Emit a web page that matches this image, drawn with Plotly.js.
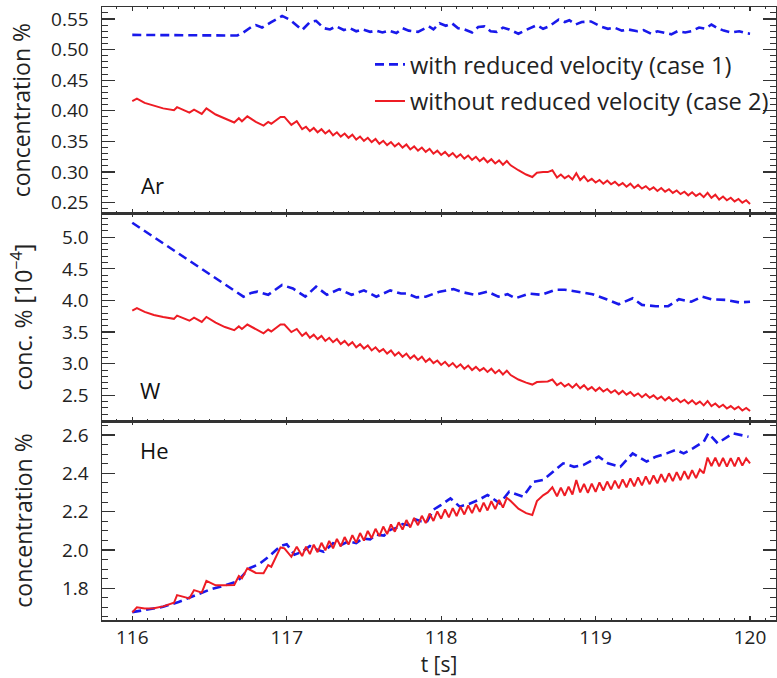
<!DOCTYPE html>
<html>
<head>
<meta charset="utf-8">
<script src="https://cdn.plot.ly/plotly-3.0.1.min.js"></script>
<style>html,body{margin:0;padding:0;background:#fff;}#chart{width:777px;height:678px;}</style>
</head>
<body>
<div id="chart"></div>
<script>
// ---------- data ----------
const legendNames = ['with reduced velocity (case 1)', 'without reduced velocity (case 2)'];
const panelLabels = ['Ar', 'W', 'He'];
const yTitles = ['concentration %', 'conc. % [10<sup>\u22124</sup>]', 'concentration %'];
const xTitle = 't [s]';

// time base shared by the three "case 2" curves
const tRed = [
116.00,116.03,116.08,116.14,116.20,116.27,116.29,116.37,116.40,116.45,116.48,116.54,116.60,116.66,116.69,116.71,116.745,116.80,116.85,116.88,116.90,116.96,116.985,117.03,117.065,
117.100,117.125,117.150,117.175,117.200,117.225,117.250,117.275,117.300,117.325,
117.350,117.375,117.400,117.425,117.450,117.475,117.500,117.525,117.550,117.575,
117.600,117.625,117.650,117.675,117.700,117.725,117.750,117.775,117.800,117.825,
117.850,117.875,117.900,117.925,117.950,117.975,118.000,118.025,118.050,118.075,
118.100,118.125,118.150,118.175,118.200,118.225,118.250,118.275,118.300,118.325,
118.350,118.375,118.400,118.425,118.450,
118.50,118.55,118.59,118.62,118.66,118.69,118.72,
118.750,118.775,118.800,118.825,118.850,118.875,118.900,118.925,118.950,118.975,
119.000,119.025,119.050,119.075,119.100,119.125,119.150,119.175,119.200,119.225,
119.250,119.275,119.300,119.325,119.350,119.375,119.400,119.425,119.450,119.475,
119.500,119.525,119.550,119.575,119.600,119.625,119.650,119.675,119.700,119.725,
119.750,119.775,119.800,119.825,119.850,119.875,119.900,119.925,119.950,119.975,
120.000];

const arRed = [
0.416,0.420,0.413,0.408,0.404,0.401,0.406,0.397,0.402,0.395,0.404,0.394,0.387,0.381,0.388,0.383,0.391,0.382,0.376,0.382,0.379,0.390,0.390,0.377,0.383,
0.370,0.374,0.367,0.372,0.365,0.370,0.363,0.368,0.360,0.365,
0.358,0.363,0.356,0.361,0.353,0.358,0.351,0.356,0.349,0.354,
0.346,0.351,0.344,0.349,0.342,0.347,0.340,0.345,0.337,0.342,
0.335,0.340,0.333,0.338,0.330,0.335,0.328,0.333,0.326,0.331,
0.324,0.329,0.322,0.327,0.320,0.325,0.318,0.323,0.316,0.321,
0.314,0.319,0.312,0.318,0.311,
0.303,0.296,0.292,0.299,0.300,0.300,0.303,
0.291,0.296,0.290,0.294,0.288,0.298,0.287,0.293,0.285,0.289,
0.283,0.287,0.281,0.286,0.280,0.284,0.278,0.282,0.276,0.281,
0.274,0.279,0.273,0.277,0.271,0.275,0.269,0.274,0.268,0.272,
0.266,0.270,0.264,0.268,0.262,0.267,0.261,0.265,0.259,0.266,
0.258,0.263,0.255,0.260,0.254,0.258,0.252,0.256,0.250,0.254,
0.248];

const wRed = [
3.84,3.88,3.82,3.77,3.74,3.71,3.76,3.68,3.73,3.66,3.74,3.65,3.58,3.53,3.59,3.55,3.62,3.54,3.48,3.54,3.51,3.62,3.62,3.50,3.55,
3.44,3.49,3.41,3.46,3.39,3.44,3.36,3.41,3.34,3.39,
3.31,3.36,3.29,3.34,3.26,3.31,3.24,3.29,3.21,3.26,
3.19,3.23,3.16,3.21,3.13,3.18,3.11,3.16,3.08,3.13,
3.06,3.11,3.03,3.08,3.01,3.05,2.98,3.03,2.96,3.01,
2.94,2.99,2.92,2.97,2.90,2.95,2.89,2.93,2.87,2.92,
2.85,2.90,2.83,2.89,2.82,
2.75,2.70,2.67,2.71,2.72,2.72,2.75,
2.66,2.70,2.64,2.68,2.62,2.68,2.61,2.66,2.59,2.63,
2.57,2.62,2.56,2.60,2.54,2.58,2.52,2.57,2.51,2.55,
2.49,2.53,2.47,2.52,2.46,2.50,2.44,2.48,2.42,2.47,
2.41,2.45,2.39,2.43,2.37,2.42,2.36,2.40,2.34,2.41,
2.33,2.37,2.31,2.35,2.29,2.33,2.28,2.32,2.26,2.30,
2.25];

const heRed = [
1.674,1.700,1.694,1.695,1.705,1.724,1.764,1.747,1.790,1.777,1.838,1.815,1.815,1.817,1.864,1.852,1.904,1.880,1.878,1.921,1.912,2.013,2.008,1.964,2.017,
1.968,2.017,1.978,2.027,1.988,2.037,1.998,2.047,2.008,2.057,
2.018,2.067,2.028,2.077,2.038,2.088,2.049,2.099,2.061,2.110,
2.072,2.122,2.083,2.133,2.095,2.144,2.106,2.156,2.117,2.167,
2.129,2.178,2.140,2.190,2.151,2.201,2.163,2.211,2.170,2.218,
2.177,2.225,2.185,2.232,2.192,2.239,2.199,2.247,2.206,2.254,
2.213,2.261,2.221,2.272,2.255,
2.215,2.192,2.182,2.255,2.285,2.300,2.327,
2.280,2.325,2.283,2.330,2.289,2.365,2.300,2.345,2.298,2.346,
2.303,2.352,2.310,2.357,2.316,2.362,2.321,2.368,2.327,2.373,
2.332,2.379,2.337,2.384,2.343,2.389,2.348,2.395,2.354,2.400,
2.359,2.406,2.364,2.411,2.370,2.416,2.375,2.420,2.400,2.482,
2.438,2.482,2.436,2.480,2.435,2.479,2.436,2.483,2.440,2.478,
2.452];

// "case 1" curves
const tArBlue = [116.00,116.35,116.68,116.72,116.77,116.80,116.84,116.90,116.97,117.02,117.06,117.10,117.15,117.19,117.24,117.28,117.32,117.37,117.41,117.45,117.49,117.54,117.58,117.62,117.66,117.71,117.75,117.79,117.85,117.88,117.92,117.95,117.99,118.03,118.07,118.11,118.15,118.20,118.24,118.28,118.32,118.36,118.40,118.44,118.50,118.54,118.58,118.62,118.66,118.70,118.76,118.80,118.83,118.87,118.91,118.97,119.03,119.08,119.12,119.17,119.21,119.27,119.31,119.36,119.40,119.44,119.49,119.53,119.58,119.62,119.67,119.71,119.75,119.79,119.83,119.88,119.93,119.97,120.00];
const arBlue = [0.524,0.524,0.523,0.528,0.537,0.540,0.536,0.545,0.555,0.549,0.540,0.532,0.545,0.547,0.535,0.533,0.538,0.532,0.535,0.530,0.533,0.529,0.531,0.528,0.531,0.527,0.535,0.531,0.529,0.533,0.538,0.533,0.543,0.539,0.543,0.535,0.533,0.528,0.537,0.538,0.530,0.529,0.536,0.533,0.526,0.531,0.535,0.540,0.534,0.538,0.549,0.545,0.548,0.541,0.545,0.546,0.538,0.534,0.536,0.531,0.533,0.530,0.532,0.526,0.530,0.528,0.525,0.530,0.528,0.530,0.536,0.534,0.541,0.535,0.531,0.528,0.530,0.527,0.526];

const tWBlue = [116.00,116.72,116.77,116.81,116.88,116.97,117.04,117.12,117.19,117.26,117.34,117.42,117.50,117.58,117.67,117.74,117.78,117.84,117.90,117.99,118.08,118.14,118.22,118.30,118.37,118.43,118.48,118.57,118.65,118.74,118.80,118.89,118.98,119.07,119.15,119.24,119.30,119.39,119.47,119.54,119.62,119.69,119.75,119.84,119.93,120.00];
const wBlue = [5.23,4.06,4.12,4.14,4.09,4.245,4.19,4.06,4.22,4.09,4.18,4.09,4.16,4.06,4.16,4.11,4.11,4.05,4.06,4.14,4.18,4.13,4.09,4.14,4.06,4.10,4.035,4.11,4.09,4.17,4.17,4.14,4.10,4.02,3.94,4.035,3.93,3.91,3.91,4.02,3.98,4.06,4.02,4.01,3.97,3.98];

const tHeBlue = [116.00,116.10,116.20,116.30,116.40,116.50,116.60,116.68,116.76,116.82,116.88,116.96,117.00,117.05,117.10,117.15,117.20,117.24,117.30,117.35,117.40,117.45,117.49,117.54,117.58,117.63,117.67,117.71,117.75,117.79,117.83,117.87,117.91,117.95,118.00,118.06,118.12,118.18,118.24,118.30,118.38,118.44,118.53,118.60,118.66,118.71,118.79,118.86,118.92,119.02,119.08,119.16,119.24,119.33,119.39,119.46,119.52,119.57,119.63,119.70,119.73,119.79,119.89,119.99];
const heBlue = [1.675,1.690,1.703,1.728,1.758,1.792,1.815,1.835,1.905,1.925,1.962,2.020,2.030,1.975,1.990,2.020,2.000,1.990,2.035,2.025,2.045,2.035,2.060,2.055,2.080,2.075,2.105,2.115,2.135,2.130,2.160,2.150,2.150,2.210,2.235,2.269,2.226,2.240,2.260,2.287,2.243,2.304,2.278,2.356,2.365,2.400,2.452,2.434,2.443,2.487,2.452,2.434,2.504,2.461,2.487,2.504,2.522,2.504,2.530,2.565,2.609,2.557,2.609,2.591];

// ---------- styling ----------
const BLUE = 'rgb(25,25,235)';
const RED = 'rgb(238,28,36)';
const FONT = 'Open Sans, Noto Sans, sans-serif';
const blueLine = {color: BLUE, width: 2.6, dash: '9px,5px'};
const redLine = {color: RED, width: 2};

const traces = [
  {x: tArBlue, y: arBlue, xaxis: 'x3', yaxis: 'y', mode: 'lines', line: blueLine, name: legendNames[0], legendgroup: 'a', showlegend: true},
  {x: tRed, y: arRed, xaxis: 'x3', yaxis: 'y', mode: 'lines', line: redLine, name: legendNames[1], legendgroup: 'b', showlegend: true},
  {x: tWBlue, y: wBlue, xaxis: 'x2', yaxis: 'y2', mode: 'lines', line: blueLine, name: legendNames[0], showlegend: false},
  {x: tRed, y: wRed, xaxis: 'x2', yaxis: 'y2', mode: 'lines', line: redLine, name: legendNames[1], showlegend: false},
  {x: tHeBlue, y: heBlue, xaxis: 'x', yaxis: 'y3', mode: 'lines', line: blueLine, name: legendNames[0], showlegend: false},
  {x: tRed, y: heRed, xaxis: 'x', yaxis: 'y3', mode: 'lines', line: redLine, name: legendNames[1], showlegend: false}
];

const AXC = '#333';
const xRange = [115.804, 120.168];
function xAx(extra) {
  return Object.assign({
    range: xRange, dtick: 1, tick0: 116, ticks: 'inside', ticklen: 4, tickwidth: 1.2, tickcolor: AXC,
    minor: {dtick: 0.1, ticks: 'inside', ticklen: 2, tickcolor: AXC, tickwidth: 1},
    showline: true, linecolor: AXC, linewidth: 1.5, mirror: 'ticks', showgrid: false, zeroline: false,
    tickfont: {family: FONT, size: 19, color: '#222'}, ticklabelstandoff: 0
  }, extra);
}
function yAx(extra) {
  return Object.assign({
    ticks: 'inside', ticklen: 13, tickwidth: 1.2, tickcolor: AXC,
    showline: true, linecolor: AXC, linewidth: 1.5, mirror: 'ticks', showgrid: false, zeroline: false,
    tickfont: {family: FONT, size: 19, color: '#222'}, ticklabelstandoff: 8
  }, extra);
}
const titleFont = {family: FONT, size: 23, color: '#222'};

const layout = {
  width: 777, height: 678,
  margin: {l: 102, r: 1, t: 7, b: 58},
  paper_bgcolor: '#fff', plot_bgcolor: '#fff',
  font: {family: FONT, size: 19, color: '#222'},
  showlegend: true,
  legend: {x: 0.3976, y: 0.942, xanchor: 'left', yanchor: 'top', bgcolor: 'rgba(0,0,0,0)', borderwidth: 0,
           font: {family: FONT, size: 23.6, color: '#222'}, traceorder: 'grouped', tracegroupgap: 3},
  xaxis: xAx({anchor: 'y3', title: {text: xTitle, font: {family: FONT, size: 21, color: '#222'}, standoff: 16}}),
  xaxis2: xAx({anchor: 'y2', matches: 'x', showticklabels: false}),
  xaxis3: xAx({anchor: 'y', matches: 'x', showticklabels: false}),
  yaxis: yAx({domain: [0.6635, 1], anchor: 'x3', range: [0.2327, 0.5696], dtick: 0.05, tick0: 0, tickformat: '.2f',
              minor: {dtick: 0.01, ticks: 'inside', ticklen: 6, tickcolor: AXC, tickwidth: 1},
              title: {text: yTitles[0], font: titleFont, standoff: 14}}),
  yaxis2: yAx({domain: [0.3246, 0.6635], anchor: 'x2', range: [2.093, 5.38], dtick: 0.5, tick0: 0, tickformat: '.1f',
              minor: {dtick: 0.1, ticks: 'inside', ticklen: 6, tickcolor: AXC, tickwidth: 1},
              title: {text: yTitles[1], font: titleFont, standoff: 23}}),
  yaxis3: yAx({domain: [0, 0.3246], anchor: 'x', range: [1.634, 2.673], dtick: 0.2, tick0: 0, tickformat: '.1f',
              minor: {dtick: 0.05, ticks: 'inside', ticklen: 6, tickcolor: AXC, tickwidth: 1},
              title: {text: yTitles[2], font: titleFont, standoff: 23}}),
  annotations: [
    {text: panelLabels[0], xref: 'paper', yref: 'paper', x: 0.055, y: 0.7096, xanchor: 'left', yanchor: 'middle', showarrow: false, font: {family: FONT, size: 22, color: '#111'}},
    {text: panelLabels[1], xref: 'paper', yref: 'paper', x: 0.053, y: 0.375, xanchor: 'left', yanchor: 'middle', showarrow: false, font: {family: FONT, size: 22, color: '#111'}},
    {text: panelLabels[2], xref: 'paper', yref: 'paper', x: 0.053, y: 0.2773, xanchor: 'left', yanchor: 'middle', showarrow: false, font: {family: FONT, size: 22, color: '#111'}}
  ]
};

Plotly.newPlot('chart', traces, layout, {staticPlot: true, displayModeBar: false});
</script>
</body>
</html>
